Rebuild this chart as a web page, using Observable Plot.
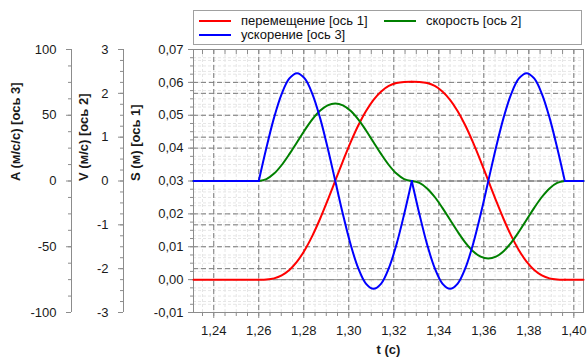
<!DOCTYPE html>
<html><head><meta charset="utf-8">
<script src="https://cdn.jsdelivr.net/npm/d3@7"></script>
<script src="https://cdn.jsdelivr.net/npm/@observablehq/plot@0.6"></script>
<style>
body{margin:0;background:#fff;font-family:"Liberation Sans",Arial,sans-serif;}
#wrap{position:relative;width:588px;height:359px;overflow:hidden;background:#fff}
#chart{position:absolute;left:0;top:0}
#legend{position:absolute;left:193px;top:10px;width:389px;height:35px;border:1px solid #a0a0a0;background:#fff;box-sizing:border-box;font-size:13px;line-height:13px;color:#111}
.item{position:absolute;display:flex;align-items:center;height:13px;white-space:nowrap}
.sw{width:32px;height:2px;margin-right:10px}
.tx{display:block;height:13px;line-height:13px;overflow:visible}
</style></head><body><div id="wrap"><div id="chart"></div><div id="legend"></div></div>
<script>
// ---- data ----
const time = [1.231, 1.2600, 1.2634, 1.2668, 1.2702, 1.2736, 1.2770, 1.2804, 1.2838, 1.2872, 1.2906,
  1.2940, 1.2974, 1.3008, 1.3042, 1.3076, 1.3110, 1.3144, 1.3178, 1.3212, 1.3246,
  1.3280, 1.3314, 1.3348, 1.3382, 1.3416, 1.3450, 1.3484, 1.3518, 1.3552, 1.3586,
  1.3620, 1.3654, 1.3688, 1.3722, 1.3756, 1.3790, 1.3824, 1.3858, 1.3892, 1.3926, 1.3960, 1.4043];
const displacement = [0, 0, 0.00005, 0.00039, 0.00128, 0.00293, 0.00547, 0.00895, 0.01331, 0.01844, 0.02412,
  0.03009, 0.03606, 0.04174, 0.04687, 0.05124, 0.05471, 0.05725, 0.05890, 0.05979, 0.06013,
  0.06018, 0.06013, 0.05979, 0.05890, 0.05725, 0.05471, 0.05124, 0.04687, 0.04174, 0.03606,
  0.03009, 0.02412, 0.01844, 0.01331, 0.00895, 0.00547, 0.00293, 0.00128, 0.00039, 0.00005, 0, 0];
const velocity = [0, 0, 0.043, 0.169, 0.365, 0.612, 0.885, 1.158, 1.405, 1.601, 1.727,
  1.770, 1.727, 1.601, 1.405, 1.158, 0.885, 0.612, 0.365, 0.169, 0.043,
  0, -0.043, -0.169, -0.365, -0.612, -0.885, -1.158, -1.405, -1.601, -1.727,
  -1.770, -1.727, -1.601, -1.405, -1.158, -0.885, -0.612, -0.365, -0.169, -0.043, 0, 0];
const acceleration = [0, 0, 25.3, 48.2, 66.3, 78.0, 82.0, 78.0, 66.3, 48.2, 25.3,
  0, -25.3, -48.2, -66.3, -78.0, -82.0, -78.0, -66.3, -48.2, -25.3,
  0, -25.3, -48.2, -66.3, -78.0, -82.0, -78.0, -66.3, -48.2, -25.3,
  0, 25.3, 48.2, 66.3, 78.0, 82.0, 78.0, 66.3, 48.2, 25.3, 0, 0];
const cuspTimes = [1.26, 1.328, 1.396];
const xDomain = [1.231, 1.4043];
const xTicks = [1.24, 1.26, 1.28, 1.30, 1.32, 1.34, 1.36, 1.38, 1.40];
const sTicks = [-0.01, 0, 0.01, 0.02, 0.03, 0.04, 0.05, 0.06, 0.07];
const vTicks = [-3, -2, -1, 0, 1, 2, 3];
const aTicks = [-100, -50, 0, 50, 100];
const seriesNames = ["перемещение [ось 1]", "скорость [ось 2]", "ускорение [ось 3]"];
const seriesColors = ["#ff0000", "#008000", "#0000ff"];
const axisTitles = ["S (м) [ось 1]", "V (м/с) [ось 2]", "A (м/с/с) [ось 3]", "t (с)"];

// ---- helpers ----
const loc = d3.formatLocale({decimal: ",", thousands: " ", grouping: [3], currency: ["", ""], minus: "-"});
const f2 = loc.format(".2f"), f0 = loc.format("d");
const vToS = v => 0.03 + v * 0.04 / 3;
const aToS = a => 0.03 + a * 0.0004;
const sToV = s => Math.round((s - 0.03) * 75);
const sToA = s => Math.round((s - 0.03) * 2500);
const xMinor = d3.range(Math.round(xDomain[0] * 200 + 1), Math.floor(xDomain[1] * 200 + 1e-6) + 1).map(k => k / 200);
const sMinor = d3.range(-4, 29).map(k => k * 0.0025);
const vMinor = d3.range(-12, 13).map(k => k * 0.25);
const aMinor = d3.range(-8, 9).map(k => k * 12.5);

const rows = time.map((t, i) => ({t, s: displacement[i], v: vToS(velocity[i]), a: aToS(acceleration[i])}));
const breaks = [xDomain[0], ...cuspTimes, xDomain[1]];
const segRows = [];
for (let j = 0; j < breaks.length - 1; j++)
  rows.filter(r => r.t >= breaks[j] - 1e-9 && r.t <= breaks[j + 1] + 1e-9).forEach(r => segRows.push({...r, seg: j}));

const gridC = "#e6e6e6", majC = "#7a7a7a", axC = "#8c8c8c", txtC = "#1a1a1a";
const common = {stroke: axC, fill: txtC, label: null};

const plot = Plot.plot({
  width: 588, height: 359,
  marginLeft: 193, marginRight: 5, marginTop: 49, marginBottom: 47,
  style: {fontFamily: '"Liberation Sans", Arial, sans-serif', fontSize: "13px", color: txtC, background: "transparent"},
  x: {domain: xDomain},
  y: {domain: [-0.01, 0.07]},
  marks: [
    Plot.ruleX(xMinor, {stroke: gridC, strokeDasharray: "3,2"}),
    Plot.ruleY(sMinor, {stroke: gridC, strokeDasharray: "3,2"}),
    Plot.ruleY(vMinor.map(vToS), {stroke: gridC, strokeDasharray: "3,2"}),
    Plot.ruleX(xTicks, {stroke: majC, strokeDasharray: "5,3"}),
    Plot.ruleY(sTicks, {stroke: majC, strokeDasharray: "5,3"}),
    Plot.ruleY(vTicks.map(vToS), {stroke: majC, strokeDasharray: "5,3"}),
    Plot.ruleY([0, 0.03], {stroke: "#909090"}),
    Plot.frame({stroke: axC}),
    // x axis
    Plot.axisX(xTicks, {...common, anchor: "bottom", tickSize: 6, tickPadding: 7, tickFormat: f2}),
    Plot.axisX(xMinor, {...common, anchor: "bottom", tickSize: 4, fill: "none"}),
    Plot.axisX(xMinor, {...common, anchor: "top", tickSize: 4, dy: 4, fill: "none"}),
    // S axis
    Plot.axisY(sTicks, {...common, anchor: "left", tickSize: 5, tickPadding: 5, tickFormat: f2}),
    Plot.axisY(sMinor, {...common, anchor: "left", tickSize: 3, fill: "none"}),
    // V axis
    Plot.ruleX([xDomain[0]], {dx: -70, stroke: axC}),
    Plot.axisY(vTicks.map(vToS), {...common, anchor: "left", dx: -70, tickSize: 5, tickPadding: 10, tickFormat: d => f0(sToV(d))}),
    Plot.axisY(vMinor.map(vToS), {...common, anchor: "left", dx: -70, tickSize: 3, fill: "none"}),
    // A axis
    Plot.ruleX([xDomain[0]], {dx: -122, stroke: axC}),
    Plot.axisY(aTicks.map(aToS), {...common, anchor: "left", dx: -122, tickSize: 5, tickPadding: 10, tickFormat: d => f0(sToA(d))}),
    Plot.axisY(aMinor.map(aToS), {...common, anchor: "left", dx: -122, tickSize: 3, fill: "none"}),
    // titles
    Plot.text([axisTitles[0]], {frameAnchor: "left", rotate: -90, dx: -58, fontWeight: "bold", fill: txtC}),
    Plot.text([axisTitles[1]], {frameAnchor: "left", rotate: -90, dx: -110, fontWeight: "bold", fill: txtC}),
    Plot.text([axisTitles[2]], {frameAnchor: "left", rotate: -90, dx: -178, fontWeight: "bold", fill: txtC}),
    Plot.text([axisTitles[3]], {frameAnchor: "bottom", dy: 41, fontWeight: "bold", fill: txtC}),
    // series
    Plot.line(segRows, {x: "t", y: "s", z: "seg", stroke: seriesColors[0], strokeWidth: 2, curve: "catmull-rom"}),
    Plot.line(segRows, {x: "t", y: "v", z: "seg", stroke: seriesColors[1], strokeWidth: 2, curve: "catmull-rom"}),
    Plot.line(segRows, {x: "t", y: "a", z: "seg", stroke: seriesColors[2], strokeWidth: 2, curve: "catmull-rom"})
  ]
});
document.getElementById("chart").appendChild(plot);

// legend
const legend = document.getElementById("legend");
const legPos = [[5, 3], [190, 3], [5, 17]];
seriesNames.forEach((name, i) => {
  const it = document.createElement("div");
  it.className = "item";
  it.style.left = legPos[i][0] + "px";
  it.style.top = legPos[i][1] + "px";
  const sw = document.createElement("span");
  sw.className = "sw";
  sw.style.background = seriesColors[i];
  const tx = document.createElement("span");
  tx.className = "tx";
  tx.textContent = name;
  it.appendChild(sw); it.appendChild(tx);
  legend.appendChild(it);
});
</script></body></html>
